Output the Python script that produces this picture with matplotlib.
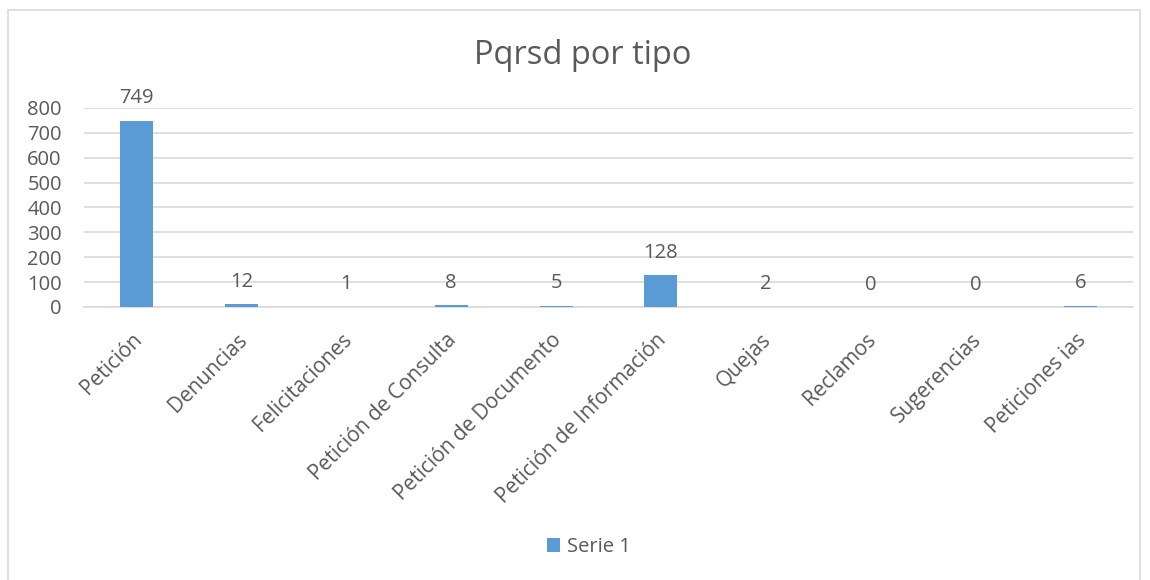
import matplotlib
matplotlib.use('Agg')
import numpy as np
from matplotlib import pyplot as plt
from matplotlib.patches import Rectangle
from matplotlib.transforms import ScaledTranslation

categories = ['Petición', 'Denuncias', 'Felicitaciones', 'Petición de Consulta',
              'Petición de Documento', 'Petición de Información', 'Quejas',
              'Reclamos', 'Sugerencias', 'Peticiones ias']
values = [749, 12, 1, 8, 5, 128, 2, 0, 0, 6]
y_ticks = [0, 100, 200, 300, 400, 500, 600, 700, 800]

text_color = '#595959'
bar_color = '#5b9bd5'
grid_color = '#d9d9d9'

plt.rcParams['font.family'] = ['Open Sans', 'DejaVu Sans']

fig = plt.figure(figsize=(11.5, 5.8), dpi=100)
ax = fig.add_axes([84 / 1150, 1 - 307 / 580, (1133 - 84) / 1150, (307 - 108) / 580])

x = np.arange(len(categories))
bars = ax.bar(x, values, width=0.315, color=bar_color, label='Serie 1', zorder=3)

for xi, v in zip(x, values):
    ax.annotate(str(v), (xi, v), xytext=(0, 9), textcoords='offset points',
                ha='center', va='bottom', fontsize=14.5, color=text_color)

ax.set_xlim(-0.5, len(categories) - 0.5)
ax.set_ylim(0, 800)
ax.set_yticks(y_ticks)
ax.set_yticklabels([str(t) for t in y_ticks], fontsize=14.5, color=text_color)
ax.yaxis.grid(True, color=grid_color, linewidth=1.2, zorder=0)
ax.tick_params(axis='both', length=0)
ax.tick_params(axis='y', pad=16)
ax.set_xticks(x)
ax.set_xticklabels(categories, rotation=45, ha='right', rotation_mode='anchor',
                   fontsize=15, color=text_color)
ax.tick_params(axis='x', pad=16)
# nudge the slanted labels a little to the left
shift = ScaledTranslation(-5 / 100, 0, fig.dpi_scale_trans)
for lbl in ax.get_xticklabels():
    lbl.set_transform(lbl.get_transform() + shift)
for s in ['top', 'right', 'left']:
    ax.spines[s].set_visible(False)
ax.spines['bottom'].set_color(grid_color)
ax.spines['bottom'].set_linewidth(1.2)

fig.text(0.507, 1 - 55 / 580, 'Pqrsd por tipo', ha='center', va='center',
         fontsize=23.5, color=text_color)

fig.legend(handles=[bars], labels=['Serie 1'], loc='center',
           bbox_to_anchor=(0.512, 1 - 547 / 580), frameon=False, fontsize=14.5,
           handlelength=0.65, handleheight=0.65, handletextpad=0.35, labelcolor=text_color)

fig.patches.append(Rectangle((8 / 1150, -0.05), (1140 - 8) / 1150, 1.05 - 10 / 580,
                             transform=fig.transFigure, fill=False,
                             edgecolor='#d9d9d9', linewidth=1.2))

fig.savefig('out.png', dpi=100)
